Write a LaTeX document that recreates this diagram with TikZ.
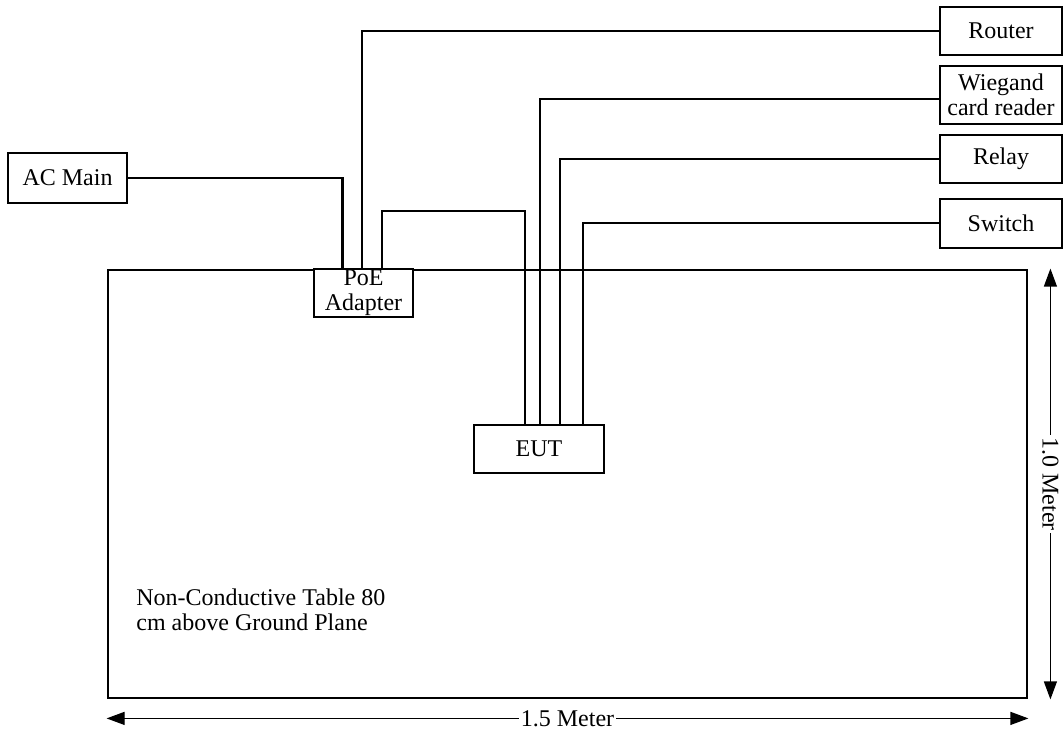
\documentclass[tikz,border=0pt]{standalone}
\usepackage{fontspec}
\setmainfont{Liberation Serif}
\usetikzlibrary{positioning,arrows.meta}

\begin{document}
\begin{tikzpicture}[
  x=0.5pt, y=0.5pt,
  font=\fontsize{12}{12.5}\selectfont,
  unitbox/.style={draw=black, line width=0.8pt, fill=white, inner sep=0pt, align=center},
  edge/.style={draw=black, line width=1pt},
  mainsedge/.style={draw=black, line width=1.3pt},
  measure/.style={draw=black, line width=0.6pt, {Triangle[length=9pt,width=6.5pt]}-{Triangle[length=9pt,width=6.5pt]}},
  measurelabel/.style={fill=white, inner sep=1pt}
]
\useasboundingbox (0,0) rectangle (1063,-731);

\node[draw=black, line width=1.4pt, minimum width=459.5pt, minimum height=214pt, inner sep=0pt] (table) at (567.5,-484) {};
\node[anchor=west, align=left, inner sep=0pt] (tablenote) at (136,-610) {Non-Conductive Table 80\\cm above Ground Plane};

\node[unitbox, minimum width=59.5pt, minimum height=25pt] (acmain) at (67.5,-178) {AC Main};
\node[unitbox, minimum width=49.5pt, minimum height=24pt] (poe) at (363.5,-293) {PoE\\Adapter};
\node[unitbox, minimum width=65pt, minimum height=24pt] (eut) at (539,-449) {EUT};

\node[unitbox, minimum width=61pt, minimum height=24pt] (router) at (1001,-31) {Router};
\node[unitbox, minimum width=61pt, minimum height=29pt] (wiegand) at (1001,-95) {Wiegand\\card reader};
\node[unitbox, minimum width=61pt, minimum height=24pt] (relay) at (1001,-159) {Relay};
\node[unitbox, minimum width=61pt, minimum height=24.5pt] (switch) at (1001,-223.5) {Switch};

% wiring
\draw[mainsedge] (acmain.east) -| ([xshift=14.5pt]poe.north west);
\draw[edge] (router.west) -| ([xshift=24.5pt]poe.north west);
\draw[edge] ([xshift=34.5pt]poe.north west) -- ++(0,57) -| ([xshift=26pt]eut.north west);
\draw[edge] ([yshift=-2pt]wiegand.west) -| ([xshift=33.5pt]eut.north west);
\draw[edge] (relay.west) -| ([xshift=43.5pt]eut.north west);
\draw[edge] (switch.west) -| ([xshift=55pt]eut.north west);

% dimensions
\draw[measure] ([yshift=-9.5pt]table.south west) -- ([yshift=-9.5pt]table.south east)
  node[midway, measurelabel] (width) {1.5 Meter};
\draw[measure] ([xshift=11pt]table.north east) -- ([xshift=11pt]table.south east)
  node[midway, measurelabel, rotate=-90] (depth) {1.0 Meter};
\end{tikzpicture}
\end{document}
